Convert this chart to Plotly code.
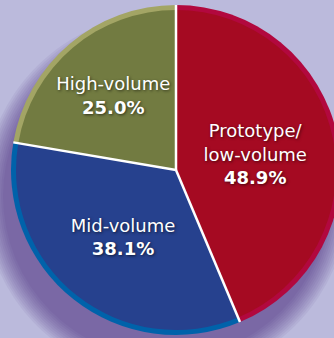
import math
import plotly.graph_objects as go

labels = ["Prototype/<br>low-volume", "Mid-volume", "High-volume"]
values = [48.9, 38.1, 25.0]
main_colors = ["#A50A22", "#26418E", "#727B41"]
rim_colors = ["#B2083E", "#0062AA", "#A3A565"]

W, H = 342, 338          # figure slightly wider than the window: the pie is cropped at the right
cx, cy = 176, 170
R_out, R_in = 165, 160

def dom(r):
    return dict(x=[(cx - r) / W, (cx + r) / W], y=[(H - cy - r) / H, (H - cy + r) / H])

fig = go.Figure()
fig.add_trace(go.Pie(
    labels=labels, values=values, sort=False, direction="clockwise", rotation=0,
    marker=dict(colors=rim_colors, line=dict(width=0)),
    textinfo="none", hoverinfo="skip", domain=dom(R_out), showlegend=False,
))
fig.add_trace(go.Pie(
    labels=labels, values=values, sort=False, direction="clockwise", rotation=0,
    marker=dict(colors=main_colors, line=dict(width=0)),
    texttemplate="%{label}<br><b>%{value:.1f}%</b>",
    textposition="inside", insidetextorientation="horizontal",
    textfont=dict(family="DejaVu Sans", size=18, color="white",
                  shadow="1px 1px 3px rgba(0,0,0,0.6)"),
    domain=dom(R_in), showlegend=False,
))

shapes = []
# soft drop shadow beneath the pie (offset down and to the left)
scx, scy = cx - 10, cy + 26
for extra in range(-2, 20, 2):
    r = R_out + extra
    shapes.append(dict(type="circle", xref="paper", yref="paper", layer="below",
                       x0=(scx - r) / W, x1=(scx + r) / W,
                       y0=(H - scy - r) / H, y1=(H - scy + r) / H,
                       fillcolor="#3D1370", opacity=0.055, line=dict(width=0)))

# white separators between slices, at cumulative-value angles
total = sum(values)
cum = 0.0
for v in values:
    ang = 2 * math.pi * cum / total
    x1 = cx + R_out * math.sin(ang)
    y1 = cy - R_out * math.cos(ang)
    shapes.append(dict(type="line", xref="paper", yref="paper", layer="above",
                       x0=cx / W, y0=1 - cy / H, x1=x1 / W, y1=1 - y1 / H,
                       line=dict(color="white", width=2.5)))
    cum += v

fig.update_layout(
    width=W, height=H, margin=dict(l=0, r=0, t=0, b=0),
    paper_bgcolor="#BBBADC", plot_bgcolor="#BBBADC",
    uniformtext=dict(minsize=18, mode="show"),
    shapes=shapes,
)
fig.write_html(
    "out.html",
    post_script="document.documentElement.style.overflow='hidden';"
                "document.body.style.overflow='hidden';document.body.style.background='#BBBADC';",
)
